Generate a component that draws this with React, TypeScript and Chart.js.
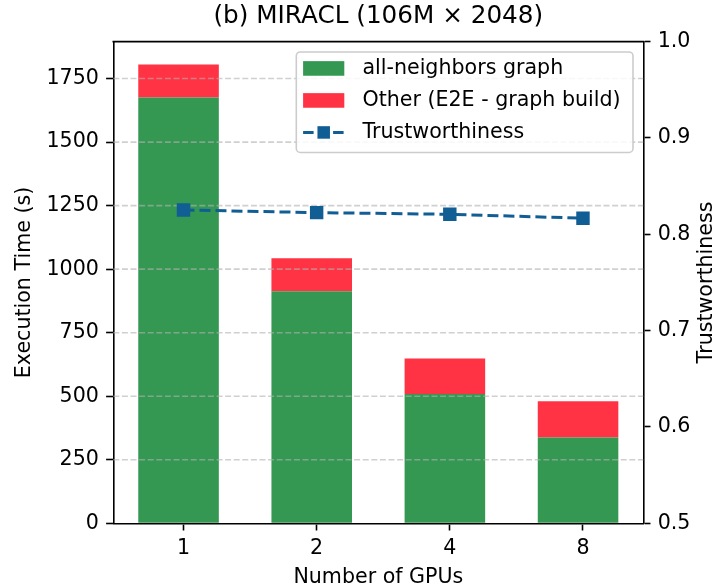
import React, { useEffect, useRef } from 'react';
import { Chart, registerables } from 'chart.js';

Chart.register(...registerables);

// ---- data ----
const TITLE = '(b) MIRACL (106M × 2048)';
const X_TITLE = 'Number of GPUs';
const Y_TITLE = 'Execution Time (s)';
const Y1_TITLE = 'Trustworthiness';
const GPU_LABELS = ['1', '2', '4', '8'];
const GPU_POS = [0, 1, 2, 3];
const GRAPH_TIME = [1675, 913, 509, 338];
const OTHER_TIME = [130, 130, 139, 142];
const TRUST = [0.8253, 0.8225, 0.8208, 0.8167];
const SERIES_LABELS = ['all-neighbors graph', 'Other (E2E - graph build)', 'Trustworthiness'];
const Y_STEP = 250;
const Y1_MIN = 0.5;
const Y1_MAX = 1.0;
const Y1_STEP = 0.1;

// ---- style ----
const GREEN = '#349853';
const RED = '#ff3344';
const BLUE = '#105e94';
const FONT = '"DejaVu Sans", sans-serif';
const BASE = 20.6;
const TITLE_SIZE = 24.7;
const TICK_LEN = 7.2;
const SPINE_W = 1.6;
const TICK_SHIFT = 0.037;
const X_MIN = -0.49;
const X_MAX = 3.49;

const TOTALS = GRAPH_TIME.map((g, i) => g + OTHER_TIME[i]);
const Y_MAX = Math.max(...TOTALS) * 1.05;

const gridOverBars = {
  id: 'gridOverBars',
  beforeDatasetDraw(chart: any, args: any) {
    if (args.meta.type !== 'line') return;
    const { ctx, chartArea: a, scales } = chart;
    const y = scales.y;
    ctx.save();
    ctx.strokeStyle = 'rgba(176,176,176,0.6)';
    ctx.lineWidth = 1.6;
    ctx.setLineDash([6, 2.6]);
    for (const t of y.ticks) {
      if (t.value === 0) continue;
      const py = y.getPixelForValue(t.value);
      ctx.beginPath();
      ctx.moveTo(a.left, py);
      ctx.lineTo(a.right, py);
      ctx.stroke();
    }
    ctx.restore();
  },
};

const frameAndLegend = {
  id: 'frameAndLegend',
  afterDraw(chart: any) {
    const { ctx, chartArea: a } = chart;
    ctx.save();
    // top spine
    ctx.strokeStyle = '#000';
    ctx.lineWidth = SPINE_W;
    ctx.setLineDash([]);
    ctx.beginPath();
    ctx.moveTo(a.left - SPINE_W / 2, a.top);
    ctx.lineTo(a.right + SPINE_W / 2, a.top);
    ctx.stroke();

    // right axis title (reads bottom to top)
    const y1 = chart.scales.y1;
    ctx.font = `${BASE}px ${FONT}`;
    ctx.fillStyle = '#000';
    ctx.textAlign = 'center';
    ctx.textBaseline = 'middle';
    ctx.save();
    ctx.translate(y1.right - BASE * 0.5, (a.top + a.bottom) / 2);
    ctx.rotate(-Math.PI / 2);
    ctx.fillText(Y1_TITLE, 0, 0);
    ctx.restore();

    // legend
    const ds = chart.data.datasets;
    const widths = ds.map((d: any) => ctx.measureText(d.label).width);
    const padL = 0.33 * BASE;
    const padR = 0.6 * BASE;
    const handle = 2 * BASE;
    const textPad = 0.88 * BASE;
    const W = padL + handle + textPad + Math.max(...widths) + padR;
    const rowH = 32;
    const H = 16.5 + rowH * (ds.length - 1) + 20;
    const right = a.right - 0.5 * BASE;
    const top = a.top + 0.5 * BASE;
    const left = right - W;
    ctx.beginPath();
    if ((ctx as any).roundRect) (ctx as any).roundRect(left, top, W, H, 4);
    else ctx.rect(left, top, W, H);
    ctx.fillStyle = 'rgba(255,255,255,0.85)';
    ctx.fill();
    ctx.strokeStyle = '#cccccc';
    ctx.lineWidth = 1.6;
    ctx.stroke();

    ds.forEach((d: any, i: number) => {
      const cy = top + 16.5 + rowH * i;
      const hx = left + padL;
      if (d.type === 'line') {
        ctx.strokeStyle = d.borderColor;
        ctx.lineWidth = 3;
        ctx.setLineDash([10.5, 4.5]);
        ctx.beginPath();
        ctx.moveTo(hx, cy);
        ctx.lineTo(hx + handle, cy);
        ctx.stroke();
        ctx.setLineDash([]);
        ctx.fillStyle = d.borderColor;
        const s = 12.5;
        ctx.fillRect(hx + handle / 2 - s / 2, cy - s / 2, s, s);
      } else {
        ctx.fillStyle = d.backgroundColor;
        ctx.fillRect(hx, cy - 7.3, handle, 14.6);
      }
      ctx.fillStyle = '#000';
      ctx.textAlign = 'left';
      ctx.textBaseline = 'middle';
      ctx.font = `${BASE}px ${FONT}`;
      ctx.fillText(d.label, hx + handle + textPad, cy);
    });
    ctx.restore();
  },
};

const tickGrid = {
  display: true,
  drawOnChartArea: false,
  drawTicks: true,
  tickLength: TICK_LEN,
  tickColor: '#000',
  tickWidth: SPINE_W,
  tickBorderDash: [],
};

export default function App() {
  const ref = useRef<HTMLCanvasElement>(null);

  useEffect(() => {
    if (!ref.current) return;
    Chart.defaults.font.family = FONT;
    Chart.defaults.color = '#000';
    const chart = new Chart(ref.current, {
      type: 'bar',
      data: {
        datasets: [
          {
            type: 'bar',
            label: SERIES_LABELS[0],
            data: GPU_POS.map((x, i) => ({ x, y: GRAPH_TIME[i] })),
            backgroundColor: GREEN,
            borderWidth: 0,
            yAxisID: 'y',
            stack: 'time',
            order: 1,
            categoryPercentage: 1,
            barPercentage: 0.605,
          },
          {
            type: 'bar',
            label: SERIES_LABELS[1],
            data: GPU_POS.map((x, i) => ({ x, y: OTHER_TIME[i] })),
            backgroundColor: RED,
            borderWidth: 0,
            yAxisID: 'y',
            stack: 'time',
            order: 1,
            categoryPercentage: 1,
            barPercentage: 0.605,
          },
          {
            type: 'line',
            label: SERIES_LABELS[2],
            data: GPU_POS.map((x, i) => ({ x: x + TICK_SHIFT, y: TRUST[i] })),
            yAxisID: 'y1',
            borderColor: BLUE,
            backgroundColor: BLUE,
            borderWidth: 3,
            borderDash: [11, 5],
            pointStyle: 'rect',
            pointRadius: 9.5,
            pointBackgroundColor: BLUE,
            pointBorderWidth: 0,
            tension: 0,
            fill: false,
            order: 0,
          },
        ],
      } as any,
      options: {
        responsive: false,
        animation: false,
        events: [],
        layout: { padding: 0 },
        plugins: {
          legend: { display: false },
          tooltip: { enabled: false },
          title: {
            display: true,
            text: TITLE,
            fullSize: false,
            color: '#000',
            font: { size: TITLE_SIZE, weight: 'normal', lineHeight: 1.2, family: FONT },
            padding: { top: 2, bottom: 10 },
          },
        },
        scales: {
          x: {
            type: 'linear',
            min: X_MIN,
            max: X_MAX,
            offset: false,
            stacked: true,
            z: 1,
            grid: { ...tickGrid, offset: false },
            border: { display: true, color: '#000', width: SPINE_W },
            afterBuildTicks: (s: any) => {
              s.ticks = GPU_POS.map((p) => ({ value: p + TICK_SHIFT }));
            },
            afterFit: (s: any) => {
              s.height = 64.7;
            },
            ticks: {
              autoSkip: false,
              maxRotation: 0,
              padding: 6,
              color: '#000',
              font: { size: BASE, family: FONT },
              callback: (_v: any, i: number) => GPU_LABELS[i],
            },
            title: {
              display: true,
              text: X_TITLE,
              color: '#000',
              font: { size: BASE, family: FONT, lineHeight: 1 },
              padding: 0,
            },
          },
          y: {
            type: 'linear',
            position: 'left',
            stacked: true,
            min: 0,
            max: Y_MAX,
            grid: { ...tickGrid },
            border: { display: true, color: '#000', width: SPINE_W },
            afterFit: (s: any) => {
              s.width = 113.3;
            },
            ticks: {
              stepSize: Y_STEP,
              includeBounds: false,
              padding: 7.2,
              color: '#000',
              font: { size: BASE, family: FONT },
              callback: (v: any) => String(Math.round(Number(v))),
            },
            title: {
              display: true,
              text: Y_TITLE,
              color: '#000',
              font: { size: BASE, family: FONT, lineHeight: 1.2 },
              padding: { top: 12, bottom: 0 },
            },
          },
          y1: {
            type: 'linear',
            position: 'right',
            min: Y1_MIN,
            max: Y1_MAX,
            grid: { ...tickGrid },
            border: { display: true, color: '#000', width: SPINE_W },
            afterFit: (s: any) => {
              s.width = 73.7;
            },
            ticks: {
              stepSize: Y1_STEP,
              padding: 7.2,
              color: '#000',
              font: { size: BASE, family: FONT },
              callback: (v: any) => Number(v).toFixed(1),
            },
            title: { display: false },
          },
        },
      } as any,
      plugins: [gridOverBars, frameAndLegend],
    });
    return () => chart.destroy();
  }, []);

  return (
    <div style={{ position: 'absolute', left: 0, top: 0, width: 717, height: 588, background: '#fff' }}>
      <canvas ref={ref} width={717} height={588} style={{ display: 'block' }} />
    </div>
  );
}
